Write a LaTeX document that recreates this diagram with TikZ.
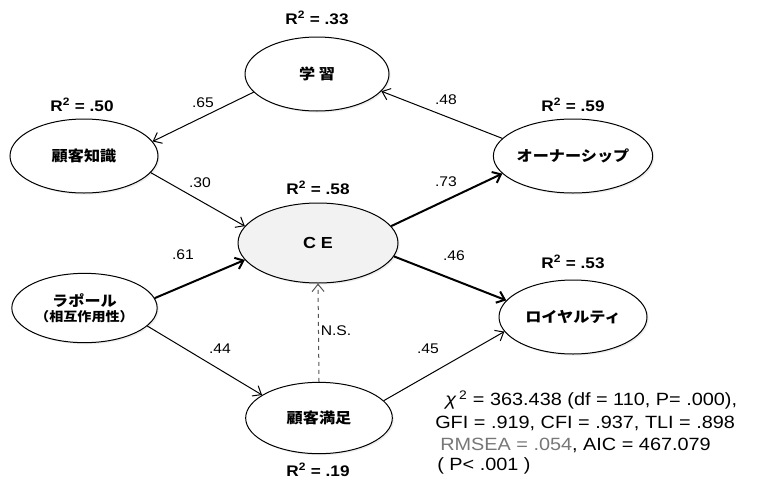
\documentclass[tikz,border=0pt]{standalone}
\usepackage{fontspec}
\setmainfont{Liberation Sans}[FakeStretch=1.12]
\newfontfamily\jp{Noto Sans CJK JP}[FakeStretch=1.1]
\usetikzlibrary{shapes.geometric,arrows.meta,shadows}
\definecolor{cefill}{HTML}{F2F2F2}
\definecolor{nsgray}{HTML}{555555}
\definecolor{rmgray}{HTML}{777777}
\begin{document}
\begin{tikzpicture}[x=0.75pt,y=-0.75pt,
  lat/.style={ellipse,draw,line width=0.75pt,fill=white,inner sep=0pt,
    drop shadow={shadow xshift=1.2pt,shadow yshift=-1.2pt,opacity=0.13,fill=gray},
    font=\jp\bfseries\fontsize{11}{13}\selectfont,align=center},
  rsq/.style={font=\bfseries\fontsize{11.5}{13}\selectfont,inner sep=0pt},
  coef/.style={font=\fontsize{10.5}{12}\selectfont,inner sep=0pt},
  fit/.style={font=\fontsize{13.3}{15}\selectfont,inner sep=0pt,anchor=west},
  path/.style={-{Straight Barb[length=5.5pt,width=9pt]},line width=0.75pt},
  strong/.style={-{Straight Barb[length=5.5pt,width=9pt]},line width=1.5pt},
  ns/.style={-{Straight Barb[length=5.5pt,width=9pt]},line width=0.75pt,dashed,draw=nsgray}]
\useasboundingbox[fill=white] (0,0) rectangle (760,482);
% latent variables
\node[lat,minimum width=108pt,minimum height=55.5pt] (gak) at (317,74) {学\ 習};
\node[lat,minimum width=111pt,minimum height=55.5pt] (chi) at (84,156) {顧客知識};
\node[lat,minimum width=120pt,minimum height=60pt,fill=cefill,font=\bfseries\fontsize{12}{14}\selectfont] (ce) at (318,243) {C E};
\node[lat,minimum width=111pt,minimum height=55.5pt] (own) at (573,156) {オーナーシップ};
\node[lat,minimum width=109pt,minimum height=52pt] (rap) at (84.5,308) {ラポール\\[-2pt]{\fontsize{9.6}{11}\selectfont （相互作用性）}};
\node[lat,minimum width=110pt,minimum height=53.5pt] (man) at (319,418) {顧客満足};
\node[lat,minimum width=111pt,minimum height=55.5pt] (loy) at (573,317) {ロイヤルティ};
% R squared
\node[rsq] (r1) at (317,18) {R\textsuperscript{2} = .33};
\node[rsq] (r2) at (82,105) {R\textsuperscript{2} = .50};
\node[rsq] (r3) at (318,188) {R\textsuperscript{2} = .58};
\node[rsq] (r4) at (573,105) {R\textsuperscript{2} = .59};
\node[rsq] (r5) at (573,262) {R\textsuperscript{2} = .53};
\node[rsq] (r6) at (318,470) {R\textsuperscript{2} = .19};
% paths
\draw[path] (gak.196) -- (chi.12);
\draw[path] (own.166) -- (gak.345);
\draw[path] (chi.346) -- (ce.167);
\draw[strong] (ce.13) -- (own.194);
\draw[strong] (rap.8) -- (ce.193);
\draw[strong] (ce.350) -- (loy.166);
\draw[path] (rap.344) -- (man.158);
\draw[ns] (man.90) -- (ce.270);
\draw[path] (man.15) -- (loy.192);
% coefficients
\node[coef] (c1) at (203,103) {.65};
\node[coef] (c2) at (446,100) {.48};
\node[coef] (c3) at (200,183) {.30};
\node[coef] (c4) at (446,182) {.73};
\node[coef] (c5) at (183,255) {.61};
\node[coef] (c6) at (454,256) {.46};
\node[coef] (c7) at (220,349) {.44};
\node[coef] (c8) at (336,331) {N.S.};
\node[coef] (c9) at (428,349) {.45};
% fit indices
\node[fit] (f1) at (445,400) {{\itshape χ}\,\textsuperscript{2} = 363.438 (df = 110, P= .000),};
\node[fit] (f2) at (435,423) {GFI = .919, CFI = .937, TLI = .898};
\node[fit] (f3) at (440,445) {\textcolor{rmgray}{RMSEA = .054}, AIC = 467.079};
\node[fit] (f4) at (437,466) {( P< .001 )};
\end{tikzpicture}
\end{document}
